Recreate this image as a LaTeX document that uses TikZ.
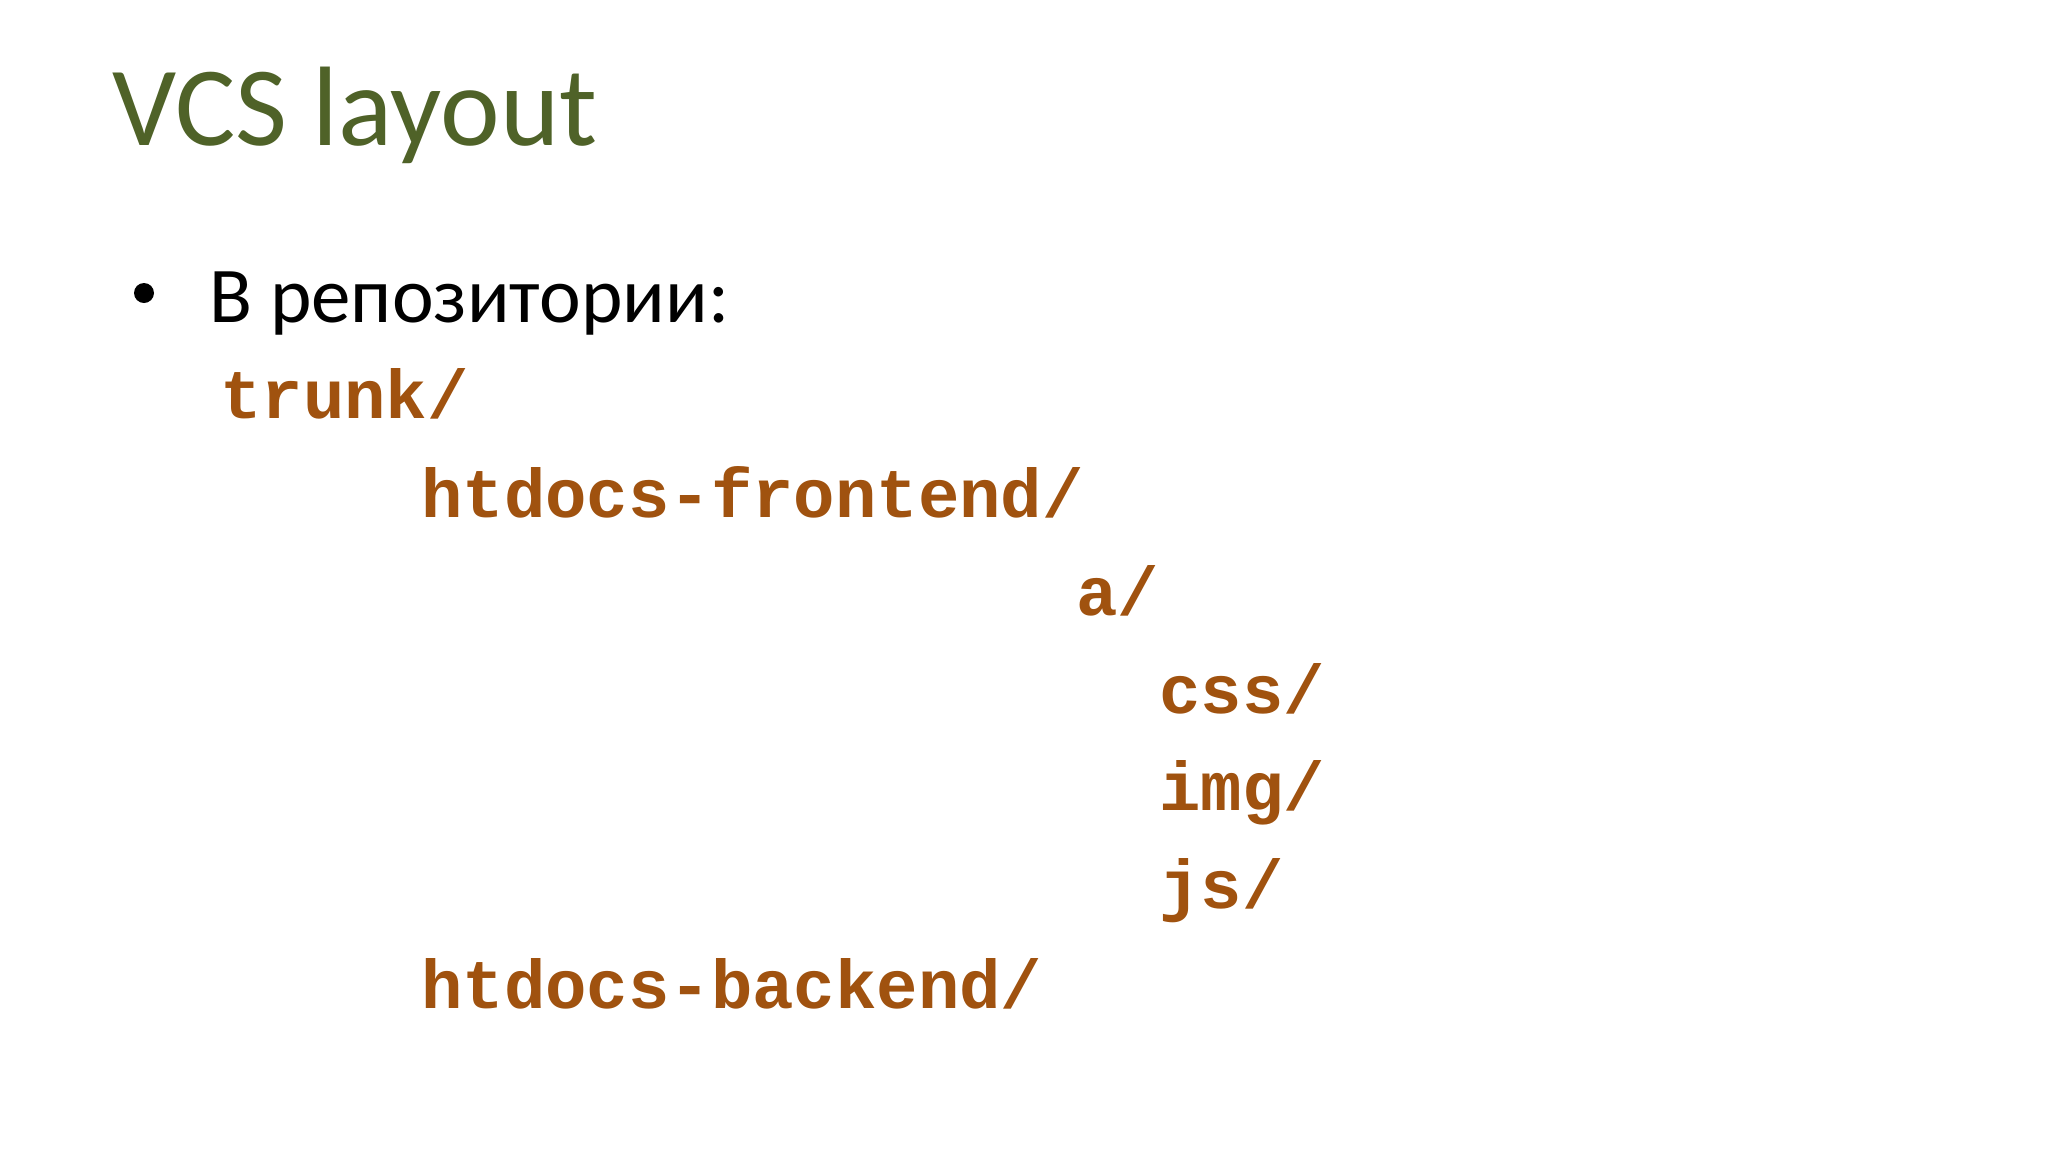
\documentclass[tikz,border=0pt]{standalone}
\usepackage{fontspec}
\setmainfont{Carlito}
\setmonofont{Liberation Mono}
\usepackage{xcolor}
\usetikzlibrary{positioning}

\definecolor{titlegreen}{HTML}{4F6228}
\definecolor{codebrown}{HTML}{A0520F}

\tikzset{
    slidetitle/.style={anchor=base west, inner sep=0pt, text=titlegreen,
        font=\fontsize{113}{120}\selectfont},
    bullettext/.style={anchor=base west, inner sep=0pt, text=black,
        font=\fontsize{79}{88}\selectfont},
    bulletdot/.style={circle, fill=black, inner sep=0pt, minimum size=20pt},
    dirline/.style={anchor=base west, inner sep=0pt, text=codebrown,
        font=\fontsize{69}{80}\selectfont\ttfamily\bfseries}
}

\begin{document}
\begin{tikzpicture}[x=1pt, y=-1pt]
        \useasboundingbox (0,0) rectangle (2048,1152);
        \fill[white] (0,0) rectangle (2048,1152);

        % title
        \node[slidetitle] (title) at (112,145) {VCS layout};

        % bullet
        \node[bulletdot] (dot) at (144,293) {};
        \node[bullettext] (repo) at (209,322) {В репозитории:};

        % directory tree
        \node[dirline] (trunk)    at (220,418)  {trunk/};
        \node[dirline] (frontend) at (421,517)  {htdocs-frontend/};
        \node[dirline] (adir)     at (1076,615) {a/};
        \node[dirline] (css)      at (1159,713) {css/};
        \node[dirline] (img)      at (1159,810) {img/};
        \node[dirline] (js)       at (1159,908) {js/};
        \node[dirline] (backend)  at (421,1008) {htdocs-backend/};
    \end{tikzpicture}
\end{document}
